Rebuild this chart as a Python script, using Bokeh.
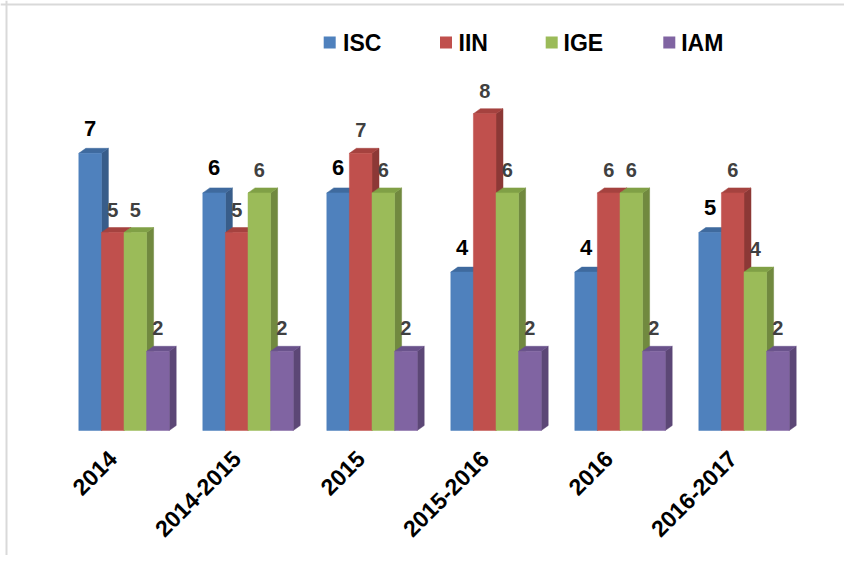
import math
from bokeh.plotting import figure
from bokeh.models import Range1d, Span
from bokeh.embed import file_html
from bokeh.resources import INLINE
from bokeh.core.properties import value

# ---------------- data ----------------
categories = ["2014", "2014-2015", "2015", "2015-2016", "2016", "2016-2017"]
series = ["ISC", "IIN", "IGE", "IAM"]
isc = [7, 6, 6, 4, 4, 5]
iin = [5, 5, 7, 8, 6, 6]
ige = [5, 6, 6, 6, 6, 4]
iam = [2, 2, 2, 2, 2, 2]
values = [isc, iin, ige, iam]

front_colors = ["#4F81BD", "#C0504D", "#9BBB59", "#8064A2"]
top_colors = ["#3F6A9E", "#A5423F", "#80A046", "#69518A"]
side_colors = ["#385D8A", "#8C3836", "#71893F", "#5C4776"]

# ---------------- layout (picture pixels) ----------------
W, H = 844, 555
OX, OY = 0, 0     # picture position of the figure's top-left corner
BASE = 430.0      # picture y of value 0
PPU = 39.6        # pixels per unit
X0 = 78.3         # left edge of first bar of first group
GAP = 124.0       # group spacing
BW = 22.6         # bar width
DX = 7.0          # depth x offset (px)
DYP = 5.0         # depth y offset (px)
DY = DYP / PPU


def vy(py):
    return (BASE - py) / PPU


p = figure(width=W, height=H, output_backend="svg", toolbar_location=None,
           x_range=Range1d(OX, OX + W), y_range=Range1d(vy(OY + H), vy(OY)),
           x_axis_type=None, y_axis_type=None,
           min_border=0, min_border_left=0, min_border_right=0,
           min_border_top=0, min_border_bottom=0)
p.grid.visible = False
p.outline_line_color = None
p.background_fill_color = "white"
p.border_fill_color = "white"

# ---------------- 3D bars ----------------
xs, ys, cols = [], [], []
for g in range(len(categories)):
    for s in range(len(series)):
        v = values[s][g]
        l = X0 + g * GAP + s * BW
        r = l + BW
        # side face
        xs.append([r, r + DX, r + DX, r])
        ys.append([0, DY, v + DY, v])
        cols.append(side_colors[s])
        # top face
        xs.append([l, r, r + DX, l + DX])
        ys.append([v, v, v + DY, v + DY])
        cols.append(top_colors[s])
        # front face
        xs.append([l, r, r, l])
        ys.append([0, 0, v, v])
        cols.append(front_colors[s])

p.patches(xs=xs, ys=ys, fill_color=cols, line_color=cols, line_width=0.5)

# ---------------- data labels ----------------
for s in range(len(series)):
    lx = [X0 + g * GAP + s * BW + BW / 2 for g in range(len(categories))]
    ly = values[s]
    lt = [str(v) for v in values[s]]
    if s == 0:
        p.text(x=lx, y=ly, text=lt, text_align="center", text_baseline="middle",
               y_offset=-25, text_font=value("Liberation Sans"),
               text_font_size="22px", text_font_style="bold", text_color="#000000")
    else:
        p.text(x=lx, y=ly, text=lt, text_align="center", text_baseline="middle",
               y_offset=-23, text_font=value("Liberation Sans"),
               text_font_size="20px", text_font_style="bold", text_color="#404040")

# ---------------- category labels ----------------
cx = [X0 + g * GAP + 2 * BW for g in range(len(categories))]
cy = [0] * len(categories)
p.text(x=cx, y=cy, text=categories, angle=math.pi / 4,
       text_align="right", text_baseline="middle",
       x_offset=-11.5, y_offset=24,
       text_font=value("Liberation Sans"), text_font_size="23px",
       text_font_style="bold", text_color="#000000")

# ---------------- legend ----------------
leg_sq_x = [329.2, 445.5, 551.2, 668.8]
leg_tx_x = [342.5, 458.0, 563.0, 680.7]
leg_y = vy(42)
p.rect(x=leg_sq_x, y=[leg_y] * 4, width=12, height=12,
       width_units="screen", height_units="screen",
       fill_color=front_colors, line_color=None)
p.text(x=leg_tx_x, y=[leg_y] * 4, text=series, text_align="left",
       text_baseline="middle", y_offset=0,
       text_font=value("Liberation Sans"), text_font_size="23px",
       text_font_style="bold", text_color="#000000")

# ---------------- chart border (left / top) ----------------
p.add_layout(Span(location=6, dimension="height", line_color="#d9d9d9", line_width=2))
p.add_layout(Span(location=vy(4), dimension="width", line_color="#d9d9d9", line_width=2))

open("out.html", "w").write(file_html(p, INLINE))
